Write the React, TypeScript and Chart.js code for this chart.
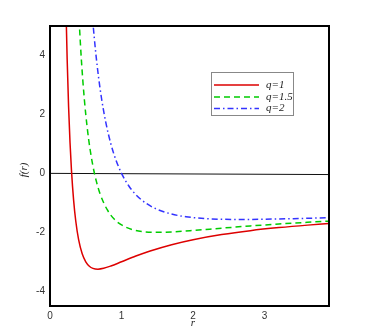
import React, { useEffect, useRef } from "react";
import { Chart, registerables } from "chart.js";

Chart.register(...registerables);

const seriesLabels = ["q=1", "q=1.5", "q=2"];

const rQ1 = [0.225, 0.24, 0.26, 0.28, 0.3, 0.33, 0.36, 0.4, 0.45, 0.5, 0.55, 0.6, 0.67, 0.75, 0.85, 1.0, 1.2, 1.4, 1.7, 2.0, 2.4, 2.8, 3.2, 3.6, 3.9];
const fQ1 = [5.42, 3.861, 2.255, 1.041, 0.111, -0.908, -1.617, -2.25, -2.729, -3.0, -3.149, -3.222, -3.25, -3.222, -3.145, -3.0, -2.806, -2.633, -2.419, -2.25, -2.076, -1.943, -1.84, -1.756, -1.703];

const rQ15 = [0.4, 0.41, 0.44, 0.48, 0.52, 0.56, 0.6, 0.65, 0.7, 0.8, 0.9, 1.0, 1.15, 1.3, 1.5, 1.75, 2.0, 2.4, 2.8, 3.2, 3.6, 3.9];
const fQ15 = [5.563, 5.068, 3.804, 2.516, 1.552, 0.818, 0.25, -0.29, -0.694, -1.234, -1.556, -1.75, -1.907, -1.976, -2.0, -1.98, -1.938, -1.859, -1.784, -1.718, -1.66, -1.621];

const rQ2 = [0.59, 0.6, 0.64, 0.68, 0.72, 0.78, 0.85, 0.92, 1.0, 1.1, 1.2, 1.35, 1.5, 1.7, 1.9, 2.2, 2.67, 3.0, 3.4, 3.9];
const fQ2 = [5.4, 5.111, 4.078, 3.239, 2.549, 1.729, 1.007, 0.465, 0.0, -0.421, -0.722, -1.027, -1.222, -1.381, -1.471, -1.538, -1.563, -1.556, -1.536, -1.506];

const rZero = [0, 3.9];
const fZero = [0, -0.04];

const xTicks = [0, 1, 2, 3];
const yTicks = [-4, -2, 0, 2, 4];

const toPts = (xs: number[], ys: number[]) => xs.map((x, i) => ({ x, y: ys[i] }));

export default function App() {
  const ref = useRef<HTMLCanvasElement | null>(null);

  useEffect(() => {
    document.body.style.margin = "0";
    const canvas = ref.current;
    if (!canvas) return;

    const framePlugin = {
      id: "framePlugin",
      afterDraw(chart: any) {
        const { ctx, chartArea } = chart;
        const { left, right, top, bottom } = chartArea;
        ctx.save();
        ctx.strokeStyle = "#000";
        ctx.lineWidth = 2;
        ctx.strokeRect(left, top, right - left, bottom - top);

        // axis titles
        ctx.fillStyle = "#222";
        ctx.font = "italic 11px 'Liberation Serif', serif";
        ctx.textAlign = "center";
        ctx.textBaseline = "middle";
        ctx.fillText("r", 193, 323);
        ctx.save();
        ctx.translate(24, 170);
        ctx.rotate(-Math.PI / 2);
        ctx.fillText("f(r)", 0, 0);
        ctx.restore();

        // legend
        const bx = 211.5, by = 72.5, bw = 82, bh = 43;
        ctx.fillStyle = "#fff";
        ctx.fillRect(bx, by, bw, bh);
        ctx.strokeStyle = "#888";
        ctx.lineWidth = 1;
        ctx.strokeRect(bx, by, bw, bh);
        const rows = [85, 97, 108.5];
        chart.data.datasets.slice(0, 3).forEach((ds: any, i: number) => {
          ctx.save();
          ctx.strokeStyle = ds.borderColor;
          ctx.lineWidth = ds.borderWidth;
          ctx.setLineDash(ds.borderDash || []);
          ctx.beginPath();
          ctx.moveTo(214, rows[i]);
          ctx.lineTo(259, rows[i]);
          ctx.stroke();
          ctx.restore();
          ctx.fillStyle = "#222";
          ctx.font = "italic 11px 'Liberation Serif', serif";
          ctx.textAlign = "left";
          ctx.textBaseline = "middle";
          ctx.fillText(ds.label, 266, rows[i]);
        });
        ctx.restore();
      },
    };

    const chart = new Chart(canvas, {
      type: "line",
      data: {
        datasets: [
          {
            label: seriesLabels[0],
            data: toPts(rQ1, fQ1),
            borderColor: "#dd0000",
            borderWidth: 1.5,
            pointRadius: 0,
            cubicInterpolationMode: "monotone",
          },
          {
            label: seriesLabels[1],
            data: toPts(rQ15, fQ15),
            borderColor: "#00cc00",
            borderWidth: 1.5,
            borderDash: [6, 4],
            pointRadius: 0,
            cubicInterpolationMode: "monotone",
          },
          {
            label: seriesLabels[2],
            data: toPts(rQ2, fQ2),
            borderColor: "#3333ff",
            borderWidth: 1.5,
            borderDash: [6, 3, 1.5, 3],
            pointRadius: 0,
            cubicInterpolationMode: "monotone",
          },
          {
            label: "zero",
            data: toPts(rZero, fZero),
            borderColor: "#111",
            borderWidth: 1,
            pointRadius: 0,
          },
        ],
      },
      options: {
        animation: false,
        responsive: false,
        events: [],
        layout: { padding: { left: 0, right: 45, top: 26, bottom: 0 } },
        plugins: { legend: { display: false }, tooltip: { enabled: false } },
        scales: {
          x: {
            type: "linear",
            min: 0,
            max: 3.9,
            grid: { display: false, drawTicks: false },
            border: { display: false },
            ticks: {
              padding: 4,
              color: "#333",
              font: { family: "'Liberation Sans', Arial, sans-serif", size: 10 },
            },
            afterBuildTicks: (s: any) => {
              s.ticks = xTicks.map((v) => ({ value: v }));
            },
            afterFit: (s: any) => {
              s.height = 27;
            },
          },
          y: {
            type: "linear",
            min: -4.5,
            max: 5,
            grid: { display: false, drawTicks: false },
            border: { display: false },
            ticks: {
              padding: 5,
              color: "#333",
              font: { family: "'Liberation Sans', Arial, sans-serif", size: 10 },
            },
            afterBuildTicks: (s: any) => {
              s.ticks = yTicks.map((v) => ({ value: v }));
            },
            afterFit: (s: any) => {
              s.width = 50;
            },
          },
        },
      },
      plugins: [framePlugin],
    } as any);

    return () => chart.destroy();
  }, []);

  return (
    <div style={{ width: 374, height: 333 }}>
      <canvas ref={ref} width={374} height={333} />
    </div>
  );
}
